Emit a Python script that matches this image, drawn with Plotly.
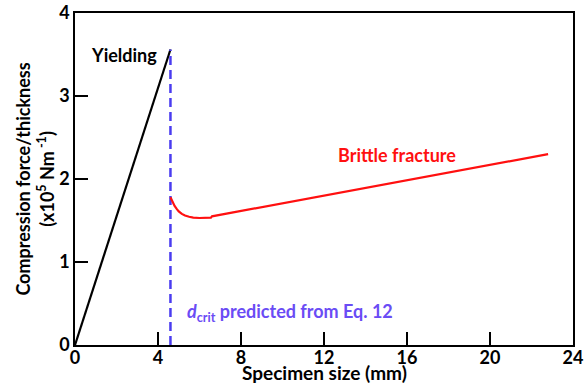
import plotly.graph_objects as go

# Data
yield_x = [0.0, 4.6]
yield_y = [0.0, 3.56]
dcrit_x = [4.6, 4.6]
dcrit_y = [0.0, 3.56]
brittle_x = [4.6, 4.7, 4.8, 4.9, 5.0, 5.15, 5.3, 5.5, 5.7, 6.0, 6.3, 6.55, 6.6, 22.8]
brittle_y = [1.78, 1.72, 1.675, 1.64, 1.61, 1.58, 1.56, 1.545, 1.535, 1.53, 1.532, 1.535, 1.55, 2.3]
x_ticks = [0, 4, 8, 12, 16, 20, 24]
y_ticks = [0, 1, 2, 3, 4]

FONT = "Lato"
fig = go.Figure()
fig.add_trace(go.Scatter(x=yield_x, y=yield_y, mode="lines",
                         line=dict(color="black", width=2.2), showlegend=False))
fig.add_trace(go.Scatter(x=dcrit_x, y=dcrit_y, mode="lines",
                         line=dict(color="#4a3cf0", width=2.5, dash="9px,5px"), showlegend=False))
fig.add_trace(go.Scatter(x=brittle_x, y=brittle_y, mode="lines",
                         line=dict(color="#ff1010", width=2.2), showlegend=False))

fig.add_annotation(x=2.35, y=3.49, text="<b>Yielding</b>", showarrow=False,
                   font=dict(family=FONT, size=18, color="black"))
fig.add_annotation(x=15.5, y=2.29, text="<b>Brittle fracture</b>", showarrow=False,
                   font=dict(family=FONT, size=18, color="#ff1010"))
fig.add_annotation(x=5.3, y=0.39, xanchor="left",
                   text="<b><i>d</i><sub>crit</sub> predicted from Eq. 12</b>", showarrow=False,
                   font=dict(family=FONT, size=18, color="#6a4cf5"))
# x-axis title
fig.add_annotation(xref="paper", yref="paper", x=0.5, y=0, yanchor="top", yshift=-15,
                   text="<b>Specimen size (mm)</b>", showarrow=False, borderpad=0,
                   font=dict(family=FONT, size=19, color="black"))

axis_common = dict(showgrid=False, zeroline=False, showline=True, linecolor="black",
                   linewidth=1.5, mirror=True, ticks="inside", ticklen=13, tickwidth=1.5,
                   tickcolor="black", automargin=False,
                   tickfont=dict(family=FONT, size=18, color="black"))
fig.update_xaxes(range=[0, 24], tickvals=x_ticks, ticktext=[f"<b>{v}</b>" for v in x_ticks],
                 ticklabelstandoff=-4, **axis_common)
fig.update_yaxes(range=[0, 4], tickvals=y_ticks, ticktext=[f"<b>{v}</b>" for v in y_ticks],
                 title=dict(text="<b>Compression force/thickness<br>(x10<sup>5</sup> Nm<sup> -1</sup>)</b>",
                            font=dict(family=FONT, size=18, color="black"), standoff=0),
                 **axis_common)
fig.update_layout(width=585, height=383, margin=dict(l=75, r=12, t=13, b=38),
                  plot_bgcolor="white", paper_bgcolor="white")
fig.write_html("out.html", config={"displayModeBar": False},
               post_script="document.body.style.margin='0';")
